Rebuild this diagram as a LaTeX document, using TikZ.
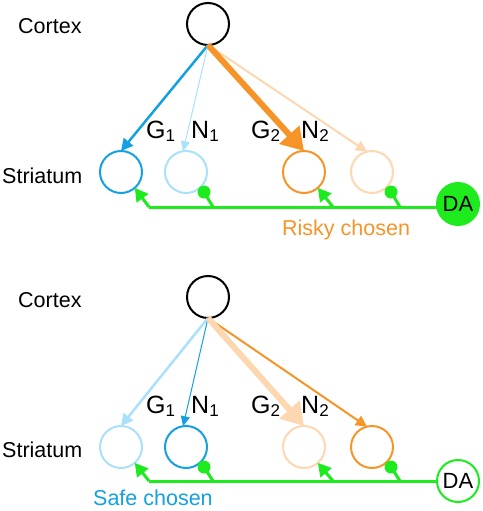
\documentclass[tikz,border=0pt]{standalone}
\usepackage{fontspec}
\setmainfont{Liberation Sans}
\usetikzlibrary{arrows.meta}
\definecolor{cblue}{RGB}{20,160,225}
\definecolor{clblue}{RGB}{170,225,250}
\definecolor{corange}{RGB}{247,148,40}
\definecolor{clorange}{RGB}{253,215,175}
\definecolor{cgreen}{RGB}{30,235,30}
\newcommand{\sbx}[1]{\raisebox{-3pt}{\fontsize{17pt}{17pt}\selectfont #1}}
\begin{document}
\begin{tikzpicture}[x=1pt,y=-1pt,
  txt/.style={font=\fontsize{21.5pt}{24pt}\selectfont, inner sep=0pt, anchor=base west},
  lbl/.style={font=\fontsize{25pt}{28pt}\selectfont, inner sep=0pt, anchor=base west},
  neur/.style={circle, draw, line width=2pt, minimum size=42pt, inner sep=0pt, outer sep=0pt},
  danode/.style={neur, draw=cgreen, text=black, font=\fontsize{22pt}{24pt}\selectfont},
  dadot/.style={circle, fill=cgreen, minimum size=13pt, inner sep=0pt},
  exc/.style={cgreen, line width=3pt, -{Triangle[length=13pt,width=14pt]}},
  inh/.style={cgreen, line width=3pt},
  thin/.style={line width=1pt, -{Triangle[length=10pt,width=9pt]}},
  mid/.style={line width=2pt, -{Triangle[length=11pt,width=11pt]}},
  med/.style={line width=2.5pt, -{Triangle[length=12pt,width=12pt]}},
  thick/.style={line width=6pt, -{Triangle[length=22pt,width=26pt]}}
]
\useasboundingbox (0,0) rectangle (482,511);

% ---------- top panel ----------
\node[txt] (cxA) at (18,34) {Cortex};
\node[txt] (stA) at (2,183) {Striatum};
\node[neur, black] (cA) at (208,24) {};
\node[neur, cblue] (g1A) at (121,172) {};
\node[neur, clblue] (n1A) at (186,172) {};
\node[neur, corange] (g2A) at (304,172) {};
\node[neur, clorange] (n2A) at (372,172) {};
\node[danode, fill=cgreen] (daA) at (458,204) {DA};

\draw[med, cblue] (cA.south) -- (g1A.north);
\draw[thin, clblue] (cA.south) -- (n1A.98);
\draw[mid, clorange] (cA.south) -- (n2A.104);
\draw[thick, corange] (cA.south) -- (g2A.north);

\node[lbl] (lg1A) at (146,138) {G\sbx{1}};
\node[lbl] (ln1A) at (191,138) {N\sbx{1}};
\node[lbl] (lg2A) at (251,138) {G\sbx{2}};
\node[lbl] (ln2A) at (301,138) {N\sbx{2}};

\coordinate (cornA) at (149,207);
\coordinate (b1A) at (213,207);
\coordinate (b2A) at (333,207);
\coordinate (b3A) at (400,207);
\node[dadot] (d1A) at (204,192) {};
\node[dadot] (d2A) at (391,192) {};
\draw[inh] (daA.west |- cornA) -- (cornA);
\draw[exc] (cornA) -- (g1A.-49);
\draw[inh] (b1A) -- (d1A.center);
\draw[inh] (b3A) -- (d2A.center);
\draw[exc] (b2A) -- (g2A.-49);
\node[txt, text=corange] (rk) at (282,235) {Risky chosen};

% ---------- bottom panel ----------
\node[txt] (cxB) at (18,307) {Cortex};
\node[txt] (stB) at (2,457) {Striatum};
\node[neur, black] (cB) at (208,297) {};
\node[neur, clblue] (g1B) at (121,447) {};
\node[neur, cblue] (n1B) at (186,447) {};
\node[neur, clorange] (g2B) at (304,447) {};
\node[neur, corange] (n2B) at (372,447) {};
\node[danode, fill=white] (daB) at (458,481) {DA};

\draw[med, clblue] (cB.south) -- (g1B.north);
\draw[thin, cblue] (cB.south) -- (n1B.98);
\draw[mid, corange] (cB.south) -- (n2B.104);
\draw[thick, clorange] (cB.south) -- (g2B.north);

\node[lbl] (lg1B) at (146,413) {G\sbx{1}};
\node[lbl] (ln1B) at (191,413) {N\sbx{1}};
\node[lbl] (lg2B) at (251,413) {G\sbx{2}};
\node[lbl] (ln2B) at (301,413) {N\sbx{2}};

\coordinate (cornB) at (149,481);
\coordinate (b1B) at (213,481);
\coordinate (b2B) at (333,481);
\coordinate (b3B) at (400,481);
\node[dadot] (d1B) at (204,467) {};
\node[dadot] (d2B) at (391,467) {};
\draw[inh] (daB.west) -- (cornB);
\draw[exc] (cornB) -- (g1B.-49);
\draw[inh] (b1B) -- (d1B.center);
\draw[inh] (b3B) -- (d2B.center);
\draw[exc] (b2B) -- (g2B.-49);
\node[txt, text=cblue] (sf) at (93,505) {Safe chosen};
\end{tikzpicture}
\end{document}
